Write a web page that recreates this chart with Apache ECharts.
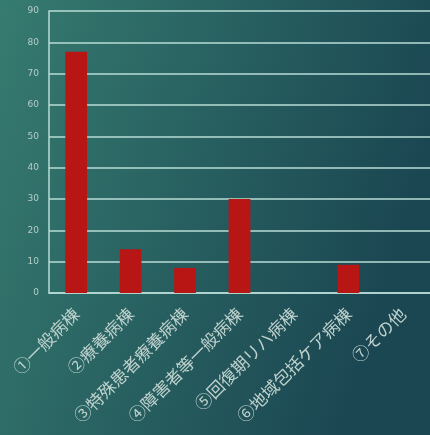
<!DOCTYPE html>
<html><head><meta charset="utf-8">
<script src="https://cdn.jsdelivr.net/npm/echarts@6/dist/echarts.min.js"></script>
<style>html,body{margin:0;padding:0;}#c{width:430px;height:435px;}</style>
</head><body><div id="c"></div>
<script>
const categories = ['①一般病棟','②療養病棟','③特殊患者療養病棟','④障害者等一般病棟','⑤回復期リハ病棟','⑥地域包括ケア病棟','⑦その他'];
const values = [77, 14, 8, 30, 0, 9, 0];
const yMin = 0, yMax = 90, yInterval = 10;

const chart = echarts.init(document.getElementById('c'), null, {renderer:'canvas'});
chart.setOption({
  backgroundColor: {type:'linear', x:0, y:0, x2:1, y2:0.3, colorStops:[{offset:0,color:'#367b70'},{offset:1,color:'#1b4752'}]},
  animation:false,
  grid:{left:49, right:-6, top:11, bottom:142, containLabel:false},
  xAxis:{type:'category', data:categories,
    axisLine:{show:true, lineStyle:{color:'#b9dcd6', width:1.5}},
    axisTick:{show:false},
    axisLabel:{rotate:45, interval:0, margin:18, color:'#bfd2ce', fontSize:17, fontWeight:'normal', fontFamily:'Noto Sans CJK JP'}},
  yAxis:{type:'value', min:yMin, max:yMax, interval:yInterval,
    axisLine:{show:true, lineStyle:{color:'#b9dcd6', width:1.5}},
    axisTick:{show:false},
    splitLine:{lineStyle:{color:'#b9dcd6', width:1.5}},
    axisLabel:{margin:10, color:'#b5cdc8', fontSize:9, fontFamily:'DejaVu Sans'}},
  series:[{type:'bar', data:values, barWidth:'40%', itemStyle:{color:'#b81515'}}]
});
</script></body></html>
